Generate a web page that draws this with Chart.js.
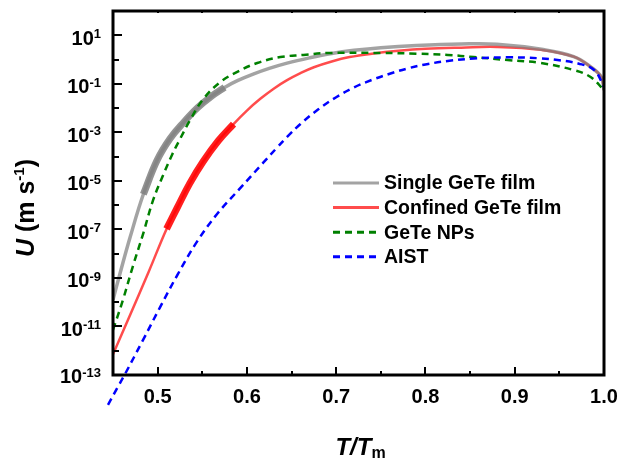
<!DOCTYPE html>
<html><head><meta charset="utf-8">
<script src="https://cdn.jsdelivr.net/npm/chart.js@4/dist/chart.umd.min.js"></script>
<style>html,body{margin:0;padding:0;background:#fff}canvas{display:block}</style>
</head><body><canvas id="c" width="624" height="459"></canvas>
<script>
// ---- data (T/Tm, U in m/s) ----
const xSingle = [0.450,0.458,0.469,0.484,0.4994,0.514,0.530,0.545,0.560,0.575,0.590,0.607,0.625,0.645,0.670,0.695,0.720,0.750,0.790,0.840,0.880,0.930,0.966,0.985,0.997,1.000];
const ySingle = [1.26e-10,1.6e-9,4.5e-8,2.8e-6,7.1e-5,5.6e-4,2.8e-3,1.05e-2,3.0e-2,7.1e-2,0.138,0.25,0.43,0.71,1.17,1.78,2.4,3.09,3.8,4.37,4.27,2.63,1.32,0.50,0.19,0.055];
const xSingleExp = [0.484,0.4994,0.514,0.530,0.545,0.560,0.575];
const ySingleExp = [2.8e-6,7.1e-5,5.6e-4,2.8e-3,1.05e-2,3.0e-2,7.1e-2];

const xConfined = [0.450,0.470,0.490,0.510,0.522,0.536,0.551,0.568,0.585,0.600,0.615,0.630,0.645,0.660,0.675,0.695,0.715,0.740,0.770,0.800,0.840,0.880,0.930,0.966,0.985,0.997,1.000];
const yConfined = [7.1e-13,3.5e-11,1.8e-9,1.05e-7,7.9e-7,7.9e-6,6.3e-5,4.5e-4,2.2e-3,7.9e-3,2.4e-2,6.3e-2,0.141,0.275,0.48,0.83,1.26,1.74,2.29,2.75,3.09,3.31,2.5,1.32,0.50,0.19,0.055];
const xConfinedExp = [0.510,0.522,0.536,0.551,0.568,0.585];
const yConfinedExp = [1.05e-7,7.9e-7,7.9e-6,6.3e-5,4.5e-4,2.2e-3];

const xNPs = [0.450,0.461,0.472,0.484,0.4949,0.5061,0.5162,0.5252,0.5364,0.551,0.5701,0.5892,0.6116,0.6374,0.6633,0.6902,0.750,0.790,0.825,0.854,0.892,0.929,0.966,0.985,1.000];
const yNPs = [7.2e-12,1.2e-10,2.8e-9,7.1e-8,1.6e-6,1.7e-5,1.2e-4,5.4e-4,3.2e-3,2.3e-2,0.117,0.31,0.72,1.26,1.55,1.86,1.86,1.74,1.55,1.26,0.95,0.72,0.37,0.19,0.055];

const xAIST = [0.4444,0.4545,0.4635,0.4837,0.5028,0.5225,0.5443,0.567,0.5925,0.6183,0.634,0.6453,0.660,0.680,0.700,0.720,0.740,0.760,0.780,0.800,0.825,0.854,0.892,0.929,0.948,0.971,0.989,1.000];
const yAIST = [5.9e-15,2.8e-14,1.1e-13,2.8e-12,6.3e-11,1.4e-9,3.2e-8,4.5e-7,5.0e-6,5.6e-5,2.4e-4,6.6e-4,2.2e-3,8.9e-3,2.8e-2,7.1e-2,0.145,0.26,0.43,0.63,0.87,1.1,1.23,1.12,0.95,0.69,0.37,0.074];

const seriesNames = ['Single GeTe film','Confined GeTe film','GeTe NPs','AIST'];
const xTickValues = [0.5,0.6,0.7,0.8,0.9,1.0];
const xTickLabels = ['0.5','0.6','0.7','0.8','0.9','1.0'];
const yTickExponents = [1,-1,-3,-5,-7,-9,-11,-13];

const pts = (xs, ys) => xs.map((x, i) => ({x: x, y: ys[i]}));

const FONT = '"Liberation Sans", Arial, Helvetica, sans-serif';
const C_GRAY = 'rgba(128,128,128,0.72)';
const C_GRAY_T = 'rgba(128,128,128,0.85)';
const C_RED = 'rgba(255,0,0,0.7)';
const C_RED_T = 'rgba(255,0,0,0.88)';
const C_GREEN = '#008000';
const C_BLUE = '#0000ff';

const legendItems = [
  {label: seriesNames[0], color: C_GRAY, dash: []},
  {label: seriesNames[1], color: C_RED, dash: []},
  {label: seriesNames[2], color: C_GREEN, dash: [7,5]},
  {label: seriesNames[3], color: C_BLUE, dash: [7,5]}
];

function textParts(ctx, parts, x, y, align) {
  let w = 0;
  parts.forEach(p => { ctx.font = p.font; p.w = ctx.measureText(p.t).width; w += p.w; });
  let cx = align === 'center' ? x - w / 2 : (align === 'right' ? x - w : x);
  ctx.textAlign = 'left';
  parts.forEach(p => { ctx.font = p.font; ctx.fillText(p.t, cx, y + (p.dy || 0)); cx += p.w; });
}

const deco = {
  id: 'deco',
  afterDraw(chart) {
    const ctx = chart.ctx, a = chart.chartArea;
    const xs = chart.scales.x, ys = chart.scales.y;
    ctx.save();
    ctx.strokeStyle = '#000';
    ctx.fillStyle = '#000';
    ctx.lineWidth = 2;
    ctx.beginPath();
    for (let k = 0; k <= 10; k++) {
      const v = 0.5 + k * 0.05;
      const px = Math.round(xs.getPixelForValue(v));
      const len = (k % 2 === 0) ? 8 : 4;
      ctx.moveTo(px, a.bottom); ctx.lineTo(px, a.bottom - len);
      ctx.moveTo(px, a.top); ctx.lineTo(px, a.top + 2);
    }
    for (let e = -12; e <= 1; e++) {
      const py = Math.round(ys.getPixelForValue(Math.pow(10, e)));
      const len = (e % 2 !== 0) ? 9 : 6;
      ctx.moveTo(a.left, py); ctx.lineTo(a.left + len, py);
    }
    ctx.stroke();
    ctx.lineWidth = 3;
    ctx.strokeRect(a.left, a.top, a.right - a.left, a.bottom - a.top);
    ctx.textBaseline = 'alphabetic';
    ctx.font = 'bold 20px ' + FONT;
    ctx.textAlign = 'center';
    xTickValues.forEach((v, i) => {
      ctx.fillText(xTickLabels[i], xs.getPixelForValue(v), 403);
    });
    yTickExponents.forEach(e => {
      const py = ys.getPixelForValue(Math.pow(10, e));
      const base = Math.min(py + 9.5, a.bottom + 8);
      textParts(ctx, [
        {t: '10', font: 'bold 20px ' + FONT, dy: 0},
        {t: (e < 0 ? '-' : '') + Math.abs(e), font: 'bold 13px ' + FONT, dy: -6.5}
      ], 101, base, 'right');
    });
    textParts(ctx, [
      {t: 'T/T', font: 'italic bold 24px ' + FONT, dy: 0},
      {t: 'm', font: 'bold 16px ' + FONT, dy: 3}
    ], (a.left + a.right) / 2 + 2, 455, 'center');
    ctx.save();
    ctx.translate(34, 208);
    ctx.rotate(-Math.PI / 2);
    textParts(ctx, [
      {t: 'U', font: 'italic bold 25px ' + FONT, dy: 0},
      {t: ' (m s', font: 'bold 25px ' + FONT, dy: 0},
      {t: '-1', font: 'bold 15px ' + FONT, dy: -10},
      {t: ')', font: 'bold 25px ' + FONT, dy: 0}
    ], 0, 0, 'center');
    ctx.restore();
    legendItems.forEach((it, i) => {
      const y = 183 + i * 24.6;
      ctx.save();
      ctx.strokeStyle = it.color;
      ctx.lineWidth = 3;
      ctx.setLineDash(it.dash);
      ctx.beginPath(); ctx.moveTo(333, y); ctx.lineTo(379, y); ctx.stroke();
      ctx.restore();
      ctx.fillStyle = '#000';
      ctx.font = 'bold 19.5px ' + FONT;
      ctx.textAlign = 'left';
      ctx.textBaseline = 'middle';
      ctx.fillText(it.label, 384, y + 1);
    });
    ctx.restore();
  }
};

const common = {pointRadius: 0, fill: false, tension: 0.4, borderCapStyle: 'butt'};

new Chart(document.getElementById('c'), {
  type: 'line',
  data: {
    datasets: [
      Object.assign({label: seriesNames[3], data: pts(xAIST, yAIST), borderColor: C_BLUE, borderWidth: 2.5, borderDash: [7,5], clip: {left: 12, bottom: 40, top: 0, right: 0}, order: 0}, common),
      Object.assign({label: seriesNames[2], data: pts(xNPs, yNPs), borderColor: C_GREEN, borderWidth: 2.5, borderDash: [7,5], order: 1}, common),
      Object.assign({label: '_thick1', data: pts(xSingleExp, ySingleExp), borderColor: C_GRAY_T, borderWidth: 7, order: 2}, common),
      Object.assign({label: seriesNames[0], data: pts(xSingle, ySingle), borderColor: C_GRAY, borderWidth: 3.5, order: 3}, common),
      Object.assign({label: '_thick2', data: pts(xConfinedExp, yConfinedExp), borderColor: C_RED_T, borderWidth: 7, order: 4}, common),
      Object.assign({label: seriesNames[1], data: pts(xConfined, yConfined), borderColor: C_RED, borderWidth: 2.5, order: 5}, common)
    ]
  },
  options: {
    responsive: false,
    animation: false,
    layout: {padding: {left: 113, right: 20, top: 11, bottom: 84}},
    plugins: {legend: {display: false}, tooltip: {enabled: false}},
    scales: {
      x: {type: 'linear', min: 0.45, max: 1.0,
          ticks: {display: false}, grid: {display: false, drawTicks: false}, border: {display: false}},
      y: {type: 'logarithmic', min: 1e-13, max: 1e2,
          ticks: {display: false}, grid: {display: false, drawTicks: false}, border: {display: false}}
    }
  },
  plugins: [deco]
});
</script>
</body></html>
